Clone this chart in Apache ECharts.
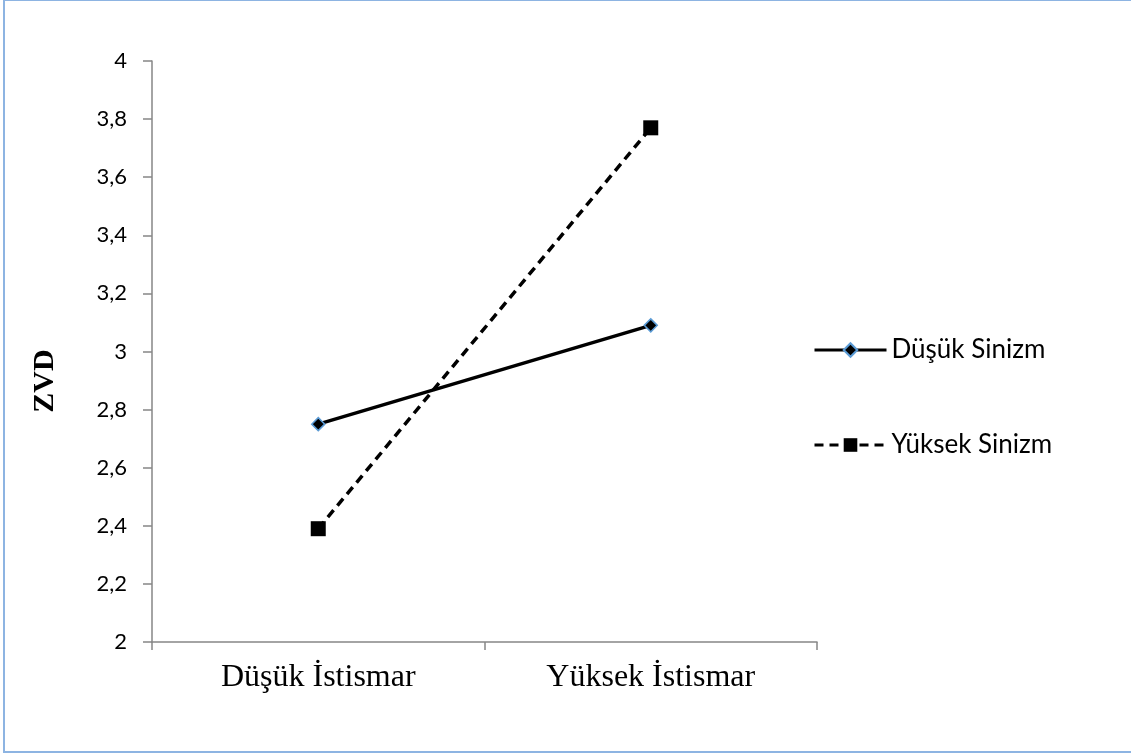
<!DOCTYPE html>
<html>
<head>
<meta charset="utf-8">
<script src="https://cdn.jsdelivr.net/npm/echarts@6/dist/echarts.min.js"></script>
<style>
  html, body { margin: 0; padding: 0; background: #fff; }
  #chart { width: 1131px; height: 756px; }
</style>
</head>
<body>
<div id="chart"></div>
<script>
// Categories on the x axis
const categories = ['Düşük İstismar', 'Yüksek İstismar'];
// Series values (ZVD)
const dusukSinizm = [2.75, 3.09];
const yuksekSinizm = [2.39, 3.77];
// Y axis range
const yMin = 2, yMax = 4, yStep = 0.2;

const axisGray = '#868686';
const chart = echarts.init(document.getElementById('chart'), null, { renderer: 'canvas' });

chart.setOption({
  animation: false,
  backgroundColor: '#ffffff',
  graphic: [
    {
      type: 'rect',
      shape: { x: 4, y: 0, width: 1140, height: 752 },
      style: { fill: 'none', stroke: '#8db4e2', lineWidth: 2 },
      silent: true
    },
    {
      // y axis title
      type: 'text',
      x: 45,
      y: 381,
      rotation: Math.PI / 2,
      style: {
        text: 'ZVD',
        fontFamily: 'Liberation Serif',
        fontWeight: 'bold',
        fontSize: 30,
        fill: '#000',
        align: 'center',
        verticalAlign: 'middle'
      },
      silent: true
    }
  ],
  grid: { left: 152, top: 61, right: 314, bottom: 114 },
  legend: {
    orient: 'vertical',
    left: 808,
    top: 332,
    itemWidth: 72,
    itemHeight: 17,
    itemGap: 69,
    lineStyle: { width: 3 },
    textStyle: { fontFamily: 'Lato', fontSize: 26, color: '#000', padding: [0, 0, 0, 0] },
    data: ['Düşük Sinizm', 'Yüksek Sinizm']
  },
  xAxis: {
    type: 'category',
    data: categories,
    boundaryGap: true,
    axisLine: { lineStyle: { color: axisGray, width: 1.5 } },
    axisTick: { show: true, length: 8, lineStyle: { color: axisGray, width: 1.5 } },
    axisLabel: { fontFamily: 'Liberation Serif', fontSize: 32, color: '#000', margin: 20 }
  },
  yAxis: {
    type: 'value',
    min: yMin,
    max: yMax,
    interval: yStep,
    axisLine: { show: true, lineStyle: { color: axisGray, width: 1.5 } },
    axisTick: { show: true, length: 9, lineStyle: { color: axisGray, width: 1.5 } },
    splitLine: { show: false },
    axisLabel: {
      fontFamily: 'Lato', fontSize: 22, color: '#000', margin: 25,
      formatter: v => String(Math.round(v * 10) / 10).replace('.', ',')
    }
  },
  series: [
    {
      name: 'Düşük Sinizm',
      type: 'line',
      data: dusukSinizm,
      symbol: 'diamond',
      symbolSize: 13,
      lineStyle: { color: '#000', width: 3.5, type: 'solid' },
      itemStyle: { color: '#000', borderColor: '#5b9bd5', borderWidth: 1.5 }
    },
    {
      name: 'Yüksek Sinizm',
      type: 'line',
      data: yuksekSinizm,
      symbol: 'rect',
      symbolSize: 15,
      lineStyle: { color: '#000', width: 3.5, type: [9, 6] },
      itemStyle: { color: '#000' }
    }
  ]
});
</script>
</body>
</html>
